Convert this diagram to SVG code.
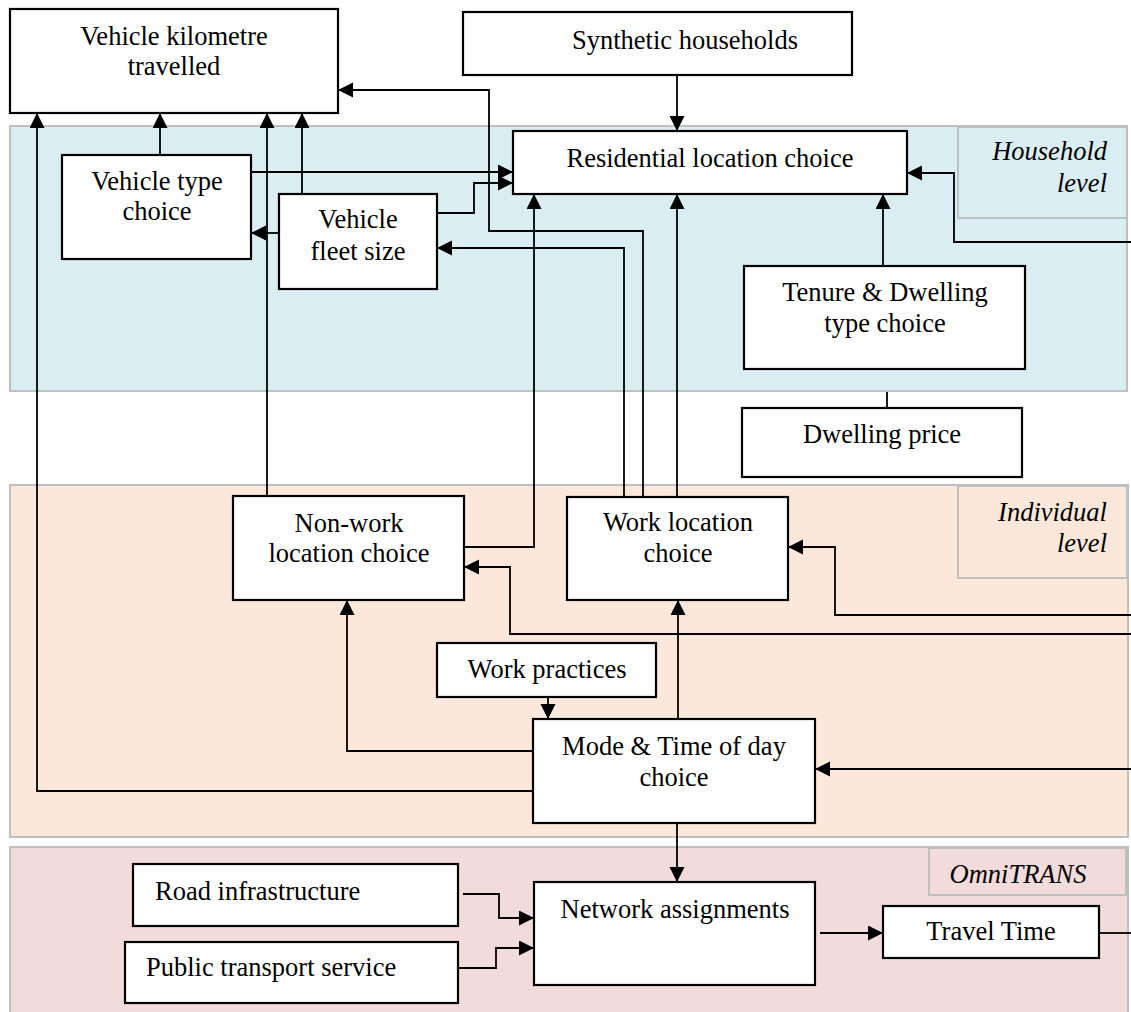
<svg xmlns="http://www.w3.org/2000/svg" width="1131" height="1012" viewBox="0 0 1131 1012">
<style>
.band{stroke:#BFBFBF;stroke-width:2}
.lbl{stroke:#BFBFBF;stroke-width:2}
.node rect{fill:#fff;stroke:#000;stroke-width:2.2}
text{font-family:"Liberation Serif","Times New Roman",serif;font-size:26.5px;fill:#000}
.c{text-anchor:middle}
.it{font-style:italic;text-anchor:end}
#connectors path{fill:none;stroke:#000;stroke-width:1.8}
</style>
<defs>
<marker id="ah" markerUnits="userSpaceOnUse" markerWidth="16" markerHeight="16" refX="15" refY="7.5" orient="auto">
<path d="M0,0 L15,7.5 L0,15 z" fill="#000"/>
</marker>
</defs>
<rect width="1131" height="1012" fill="#fff"/>
<g id="bands">
<rect class="band" x="10" y="126" width="1117" height="265" fill="#DAEDF3"/>
<rect class="band" x="10" y="485" width="1118" height="352" fill="#FCE8DA"/>
<rect class="band" x="10" y="847" width="1118" height="180" fill="#F2DCDB"/>
<rect class="lbl" x="958" y="127" width="169" height="91" fill="#DAEDF3"/>
<rect class="lbl" x="958" y="486" width="169" height="92" fill="#FCE8DA"/>
<rect class="lbl" x="929" y="848" width="197" height="47" fill="#F2DCDB"/>
<text class="it" x="1107" y="160">Household</text>
<text class="it" x="1107" y="192">level</text>
<text class="it" x="1107" y="521">Individual</text>
<text class="it" x="1107" y="552">level</text>
<text x="1018" y="883" style="font-style:italic;text-anchor:middle">OmniTRANS</text>
</g>
<g id="connectors">
<path d="M677,75 V131" marker-end="url(#ah)"/>
<path d="M160,155 V113" marker-end="url(#ah)"/>
<path d="M302,194 V113" marker-end="url(#ah)"/>
<path d="M267,496 V113" marker-end="url(#ah)"/>
<path d="M533,791 H37 V113" marker-end="url(#ah)"/>
<path d="M251,172 H513" marker-end="url(#ah)"/>
<path d="M437,213 H474 V183 H513" marker-end="url(#ah)"/>
<path d="M279,233 H251" marker-end="url(#ah)"/>
<path d="M643,497 V231 H489 V90 H338" marker-end="url(#ah)"/>
<path d="M624,497 V248 H437" marker-end="url(#ah)"/>
<path d="M464,547 H534 V194" marker-end="url(#ah)"/>
<path d="M677,497 V194" marker-end="url(#ah)"/>
<path d="M883,266 V194" marker-end="url(#ah)"/>
<path d="M887,392 V408"/>
<path d="M1131,242 H954 V173 H907" marker-end="url(#ah)"/>
<path d="M1131,615 H835 V547 H788" marker-end="url(#ah)"/>
<path d="M1131,634 H510 V567 H464" marker-end="url(#ah)"/>
<path d="M678,719 V600" marker-end="url(#ah)"/>
<path d="M533,751 H347 V600" marker-end="url(#ah)"/>
<path d="M548,697 V719" marker-end="url(#ah)"/>
<path d="M1131,769 H815" marker-end="url(#ah)"/>
<path d="M677,823 V882" marker-end="url(#ah)"/>
<path d="M463,894 H499 V918 H534" marker-end="url(#ah)"/>
<path d="M458,968 H496 V948 H534" marker-end="url(#ah)"/>
<path d="M820,933 H883" marker-end="url(#ah)"/>
<path d="M1099,933 H1131"/>
</g>
<g id="vkt" class="node"><rect x="10" y="9" width="328" height="104"/><text class="c" x="174" y="45">Vehicle kilometre</text><text class="c" x="174" y="75">travelled</text></g>
<g id="synthetic" class="node"><rect x="463" y="12" width="389" height="63"/><text class="c" x="685" y="49">Synthetic households</text></g>
<g id="residential" class="node"><rect x="513" y="131" width="394" height="63"/><text class="c" x="710" y="167">Residential location choice</text></g>
<g id="vehtype" class="node"><rect x="62" y="155" width="189" height="104"/><text class="c" x="157" y="190">Vehicle type</text><text class="c" x="157" y="220">choice</text></g>
<g id="fleet" class="node"><rect x="279" y="194" width="158" height="95"/><text class="c" x="358" y="228">Vehicle</text><text class="c" x="358" y="260">fleet size</text></g>
<g id="tenure" class="node"><rect x="744" y="266" width="281" height="103"/><text class="c" x="885" y="301">Tenure &amp; Dwelling</text><text class="c" x="885" y="332">type choice</text></g>
<g id="dwelling" class="node"><rect x="742" y="408" width="280" height="69"/><text class="c" x="882" y="443">Dwelling price</text></g>
<g id="nonwork" class="node"><rect x="233" y="496" width="231" height="104"/><text class="c" x="349" y="532">Non-work</text><text class="c" x="349" y="562">location choice</text></g>
<g id="work" class="node"><rect x="567" y="497" width="221" height="103"/><text class="c" x="678" y="531">Work location</text><text class="c" x="678" y="562">choice</text></g>
<g id="practices" class="node"><rect x="437" y="643" width="219" height="54"/><text class="c" x="547" y="678">Work practices</text></g>
<g id="mode" class="node"><rect x="533" y="719" width="282" height="104"/><text class="c" x="674" y="755">Mode &amp; Time of day</text><text class="c" x="674" y="786">choice</text></g>
<g id="road" class="node"><rect x="133" y="864" width="325" height="62"/><text x="155" y="900">Road infrastructure</text></g>
<g id="public" class="node"><rect x="125" y="942" width="333" height="61"/><text x="146" y="976">Public transport service</text></g>
<g id="network" class="node"><rect x="534" y="882" width="281" height="103"/><text class="c" x="675" y="918">Network assignments</text></g>
<g id="travel" class="node"><rect x="883" y="906" width="216" height="52"/><text class="c" x="991" y="940">Travel Time</text></g>
</svg>
